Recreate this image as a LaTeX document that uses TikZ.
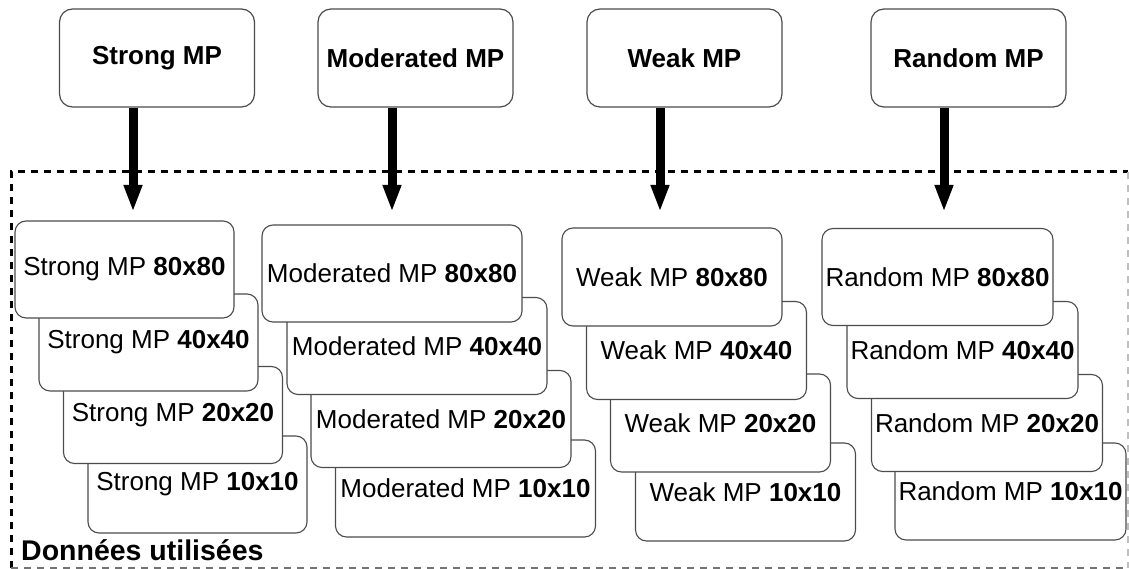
\documentclass[tikz,border=0pt]{standalone}
\usepackage{fontspec}
\setmainfont{Liberation Sans}
\usetikzlibrary{arrows.meta}
\begin{document}
\begin{tikzpicture}[x=1pt,y=-1pt,
  topbox/.style={draw=black!70, line width=1.2pt, rounded corners=13pt, fill=white,
    minimum width=195pt, minimum height=98pt, inner sep=0pt,
    font=\fontsize{26}{31}\selectfont\bfseries},
  stackbox/.style={draw=black!70, line width=1.1pt, rounded corners=11pt, fill=white,
    minimum height=97pt, inner sep=0pt, font=\fontsize{26}{31}\selectfont},
  bigarrow/.style={line width=9pt, -{Triangle[width=17pt,length=27pt]}},
  frameline/.style={dash pattern=on 7pt off 6pt}
]
\useasboundingbox (0,0) rectangle (1129,569);
% frame "Données utilisées"
\draw[frameline, line width=3pt, black] (11,568) -- (11,172) -- (1128,172);
\draw[frameline, line width=1.5pt, black!55] (11,568) -- (1128,568);
\draw[frameline, line width=1.2pt, black!25] (1128,172) -- (1128,568);
\node[anchor=base west, inner sep=0pt, font=\fontsize{28.5}{33}\selectfont\bfseries] (lbl) at (21,560) {Données utilisées};

% top boxes
\node[topbox] (ts) at (157,58) {Strong MP};
\node[topbox] (tm) at (415.5,58) {Moderated MP};
\node[topbox] (tw) at (684.5,58) {Weak MP};
\node[topbox] (tr) at (968.5,58) {Random MP};

% Strong stack
\begin{scope}[every node/.append style={stackbox, minimum width=219pt}]
\node (s4) at (197.5,484.5) {Strong MP \textbf{10x10}};
\node (s3) at (173,415) {Strong MP \textbf{20x20}};
\node (s2) at (148.5,342.5) {Strong MP \textbf{40x40}};
\node (s1) at (124.5,269.5) {Strong MP \textbf{80x80}};
\end{scope}
% Moderated stack
\begin{scope}[every node/.append style={stackbox, minimum width=260pt}]
\node (m4) at (465.5,488.5) {Moderated MP \textbf{10x10}};
\node (m3) at (441,419) {Moderated MP \textbf{20x20}};
\node (m2) at (417,346) {Moderated MP \textbf{40x40}};
\node (m1) at (392,273.5) {Moderated MP \textbf{80x80}};
\end{scope}
% Weak stack
\begin{scope}[every node/.append style={stackbox, minimum width=220pt, minimum height=98pt}]
\node (w4) at (745.5,492) {Weak MP \textbf{10x10}};
\node (w3) at (720.5,423) {Weak MP \textbf{20x20}};
\node (w2) at (696.5,350.5) {Weak MP \textbf{40x40}};
\node (w1) at (672,277) {Weak MP \textbf{80x80}};
\end{scope}
% Random stack
\begin{scope}[every node/.append style={stackbox, minimum width=231pt}]
\node (r4) at (1010.5,491.5) {Random MP \textbf{10x10}};
\node (r3) at (987,423) {Random MP \textbf{20x20}};
\node (r2) at (962.5,350) {Random MP \textbf{40x40}};
\node (r1) at (937.5,277) {Random MP \textbf{80x80}};
\end{scope}

% arrows
\coordinate (as) at (133,212);
\coordinate (am) at (392,212);
\coordinate (aw) at (660,212);
\coordinate (ar) at (944,212);
\draw[bigarrow] (ts.south -| as) -- (as);
\draw[bigarrow] (tm.south -| am) -- (am);
\draw[bigarrow] (tw.south -| aw) -- (aw);
\draw[bigarrow] (tr.south -| ar) -- (ar);
\end{tikzpicture}
\end{document}
